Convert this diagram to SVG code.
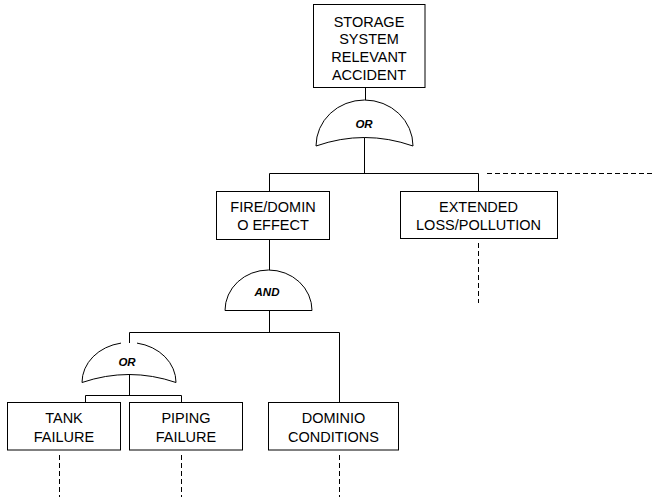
<svg xmlns="http://www.w3.org/2000/svg" width="655" height="497" viewBox="0 0 655 497">
<style>
.box{fill:#fff;stroke:#000;stroke-width:1}
.gate{fill:none;stroke:#000;stroke-width:1}
.ln{fill:none;stroke:#000;stroke-width:1}
.dash{fill:none;stroke:#000;stroke-width:1;stroke-dasharray:5 3}
.t{font-family:"Liberation Sans",Arial,sans-serif;font-size:14.5px;fill:#000;text-anchor:middle}
.g{font-family:"Liberation Sans",Arial,sans-serif;font-size:11.5px;font-weight:bold;font-style:italic;fill:#000;text-anchor:middle}
</style>
<rect width="655" height="497" fill="#fff"/>
<g id="connectors">
<path class="ln" d="M365.5,87.5V100"/>
<path class="ln" d="M364.5,137.5V173.5M269.5,173.5H478.5M269.5,173.5V191.5M478.5,173.5V191.5"/>
<path class="dash" d="M487,173.5H655"/>
<path class="dash" d="M478.5,243V303"/>
<path class="ln" d="M269.5,239.5V270"/>
<path class="ln" d="M269.5,310.5V332.5M129.5,332.5H339.5M339.5,332.5V402.5M129.5,332.5V343"/>
<path class="ln" d="M129.5,374.5V395.5M85.5,395.5H181.5M85.5,395.5V402.5M181.5,395.5V402.5"/>
<path class="dash" d="M59.5,455V497M181.5,455V497M339.5,455V497"/>
</g>
<g id="top-event">
<rect class="box" x="313.5" y="4.5" width="111.5" height="83"/>
<text class="t" x="369" y="26.5">STORAGE</text>
<text class="t" x="369" y="44.3">SYSTEM</text>
<text class="t" x="369" y="62">RELEVANT</text>
<text class="t" x="369" y="79.8">ACCIDENT</text>
</g>
<g id="gate-or-top">
<path class="gate" d="M316,146 A48.5,46 0 0,1 364.5,100 A48.5,46 0 0,1 413,146 Q364.5,129 316,146 Z"/>
<text class="g" x="364" y="127.5">OR</text>
</g>
<g id="fire-domino">
<rect class="box" x="216.5" y="191.5" width="113" height="48"/>
<text class="t" x="273" y="212.3">FIRE/DOMIN</text>
<text class="t" x="273" y="230">O EFFECT</text>
</g>
<g id="extended-loss">
<rect class="box" x="400.5" y="191.5" width="157" height="47"/>
<text class="t" x="478.5" y="212.3">EXTENDED</text>
<text class="t" x="478.5" y="230">LOSS/POLLUTION</text>
</g>
<g id="gate-and">
<path class="gate" d="M225,310.5 A43.5,40.5 0 0,1 312,310.5 Z"/>
<text class="g" x="267" y="295.5">AND</text>
</g>
<g id="gate-or-bottom">
<path class="gate" d="M82,382.5 A47,40 0 0,1 121,343.1 M137,343.1 A47,40 0 0,1 176,382.5 Q129,366.5 82,382.5"/>
<text class="g" x="127" y="366">OR</text>
</g>
<g id="tank-failure">
<rect class="box" x="7.5" y="402.5" width="113" height="47.5"/>
<text class="t" x="64" y="423.3">TANK</text>
<text class="t" x="64" y="441.5">FAILURE</text>
</g>
<g id="piping-failure">
<rect class="box" x="129.5" y="402.5" width="113" height="47.5"/>
<text class="t" x="186" y="423.3">PIPING</text>
<text class="t" x="186" y="441.5">FAILURE</text>
</g>
<g id="domino-conditions">
<rect class="box" x="268.5" y="402.5" width="130" height="47.5"/>
<text class="t" x="333.5" y="423.3">DOMINIO</text>
<text class="t" x="333.5" y="441.5">CONDITIONS</text>
</g>
</svg>
